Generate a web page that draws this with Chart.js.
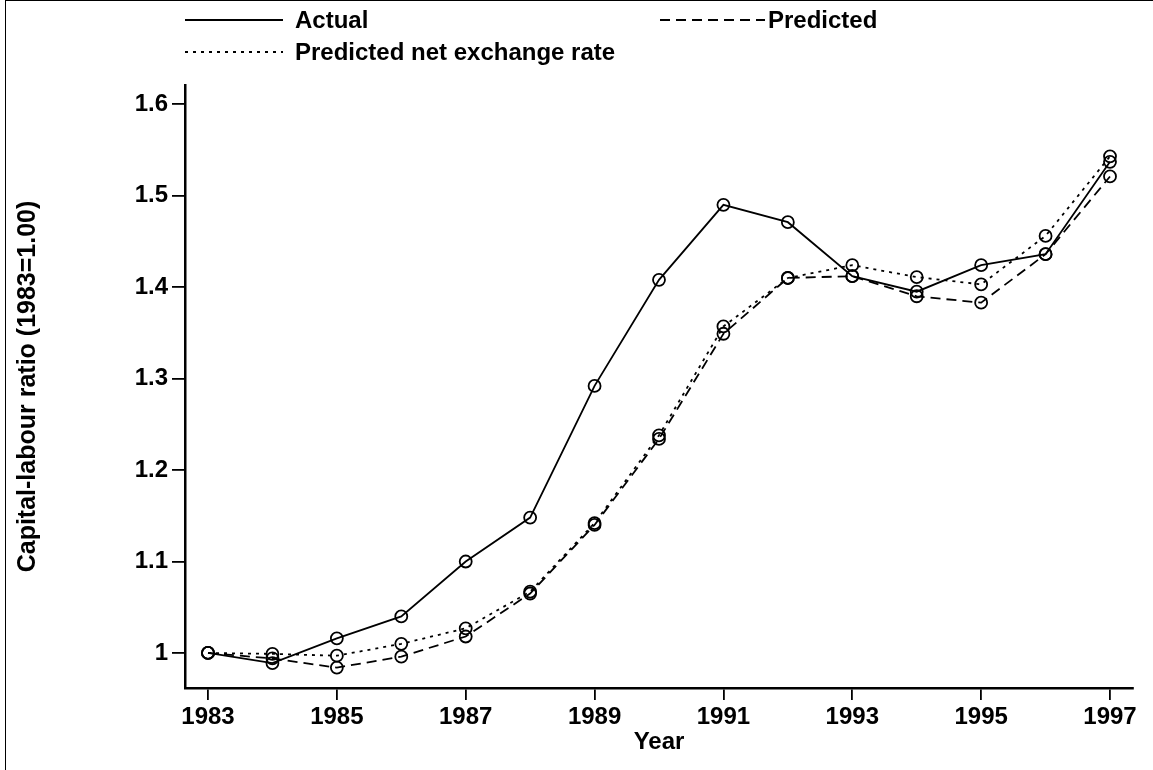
<!DOCTYPE html>
<html>
<head>
<meta charset="utf-8">
<script src="https://cdn.jsdelivr.net/npm/chart.js@4"></script>
<style>
 html,body{margin:0;padding:0;background:#fff;}
 #wrap{position:relative;width:1153px;height:770px;overflow:hidden;}
 #frame{position:absolute;left:5px;top:0;width:1148px;height:770px;border-left:1px solid #000;border-top:1px solid #000;box-sizing:border-box;}
 #chart{position:absolute;left:0;top:0;}
</style>
</head>
<body>
<div id="wrap">
 <div id="frame"></div>
 <canvas id="chart" width="1153" height="770"></canvas>
</div>
<script>
// data
const years=[1983,1984,1985,1986,1987,1988,1989,1990,1991,1992,1993,1994,1995,1996,1997];
const actual=[1.000,0.989,1.016,1.040,1.100,1.148,1.292,1.408,1.490,1.471,1.412,1.395,1.424,1.436,1.537];
const predicted=[1.000,0.994,0.984,0.996,1.018,1.065,1.140,1.234,1.349,1.410,1.412,1.390,1.383,1.436,1.521];
const predictedNet=[1.000,0.999,0.997,1.010,1.027,1.067,1.142,1.238,1.357,1.410,1.424,1.411,1.403,1.456,1.543];
const xTicks=[1983,1985,1987,1989,1991,1993,1995,1997];
const yTicks=[1,1.1,1.2,1.3,1.4,1.5,1.6];

const FONT="'Liberation Sans', Arial, sans-serif";

function pts(vals){
 return years.map((x,i)=>({x:x,y:vals[i]}));
}

function series(label,vals,dash){
 return {
  label:label,
  data:pts(vals),
  borderColor:"#000",
  borderWidth:1.8,
  borderDash:dash,
  pointStyle:"circle",
  pointRadius:6,
  pointBorderWidth:1.8,
  pointBorderColor:"#000",
  pointBackgroundColor:"rgba(0,0,0,0)",
  fill:false,
  tension:0
 };
}

// legend drawn by hand, layout like the original
const legendSpots=[
 {x:185,y:20},
 {x:660,y:20},
 {x:185,y:52}
];
const legendPlugin={
 id:"handLegend",
 afterDraw(chart){
  let ctx=chart.ctx;
  ctx.save();
  chart.data.datasets.forEach((ds,i)=>{
   let s=legendSpots[i];
   ctx.strokeStyle="#000";
   ctx.lineWidth=1.8;
   ctx.setLineDash(ds.borderDash||[]);
   ctx.beginPath();
   ctx.moveTo(s.x,s.y);
   ctx.lineTo(s.x+(i==1?105:98),s.y);
   ctx.stroke();
   ctx.setLineDash([]);
   ctx.fillStyle="#000";
   ctx.font="bold 24px "+FONT;
   ctx.textBaseline="middle";
   ctx.fillText(ds.label,s.x+(i==1?108:110),s.y+1);
  });
  ctx.restore();
 }
};

new Chart(document.getElementById("chart"),{
 type:"line",
 data:{datasets:[
  series("Actual",actual,[]),
  series("Predicted",predicted,[10,6]),
  series("Predicted net exchange rate",predictedNet,[3,5])
 ]},
 options:{
  responsive:false,
  animation:false,
  devicePixelRatio:1,
  layout:{padding:{top:85,right:20,left:0,bottom:0}},
  plugins:{legend:{display:false},tooltip:{enabled:false}},
  scales:{
   x:{
    type:"linear",
    min:1982.643,
    max:1997.357,
    afterBuildTicks:s=>{s.ticks=xTicks.map(v=>({value:v}));},
    afterFit:s=>{s.height=82;},
    grid:{drawOnChartArea:false,drawTicks:true,tickLength:12,color:"#000",lineWidth:1.8},
    border:{display:true,color:"#000",width:2.5},
    ticks:{color:"#000",font:{family:FONT,size:24,weight:"bold"},padding:3,maxRotation:0,callback:v=>String(v)},
    title:{display:true,text:"Year",color:"#000",font:{family:FONT,size:24,weight:"bold"},padding:{top:0,bottom:13}}
   },
   y:{
    type:"linear",
    min:0.9617,
    max:1.621,
    afterBuildTicks:s=>{s.ticks=yTicks.map(v=>({value:v}));},
    afterFit:s=>{s.width=185;},
    grid:{drawOnChartArea:false,drawTicks:true,tickLength:13,color:"#000",lineWidth:1.8},
    border:{display:true,color:"#000",width:2.5},
    ticks:{color:"#000",font:{family:FONT,size:24,weight:"bold"},padding:4,callback:v=>v==1?"1":v.toFixed(1)},
    title:{display:true,text:"Capital-labour ratio (1983=1.00)",color:"#000",font:{family:FONT,size:25,weight:"bold"},padding:{top:13,bottom:0}}
   }
  }
 },
 plugins:[legendPlugin]
});
</script>
</body>
</html>
